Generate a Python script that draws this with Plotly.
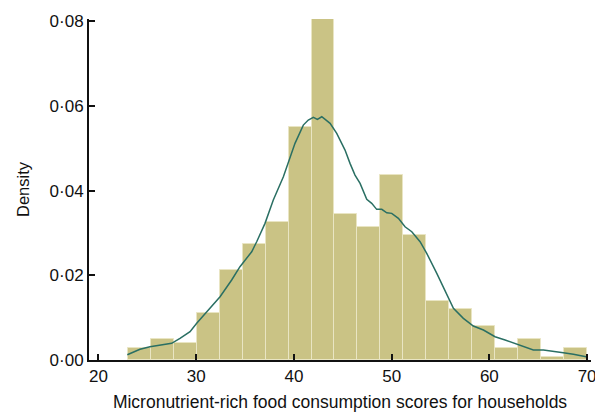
import numpy as np
import plotly.graph_objects as go

# Histogram of household micronutrient-rich food consumption scores (density scale)
bin_start = 23.0
bin_width = 2.35
bin_density = [0.0029, 0.0049, 0.0039, 0.0110, 0.0212, 0.0275, 0.0325, 0.0549,
               0.0805, 0.0345, 0.0315, 0.0437, 0.0294, 0.0140, 0.0120, 0.0080,
               0.0028, 0.0049, 0.0008, 0.0028]

# Kernel density estimate
kde_x = [22.95, 24.25, 25.27, 26.47, 27.49, 28.34, 29.37, 30.05, 31.41, 32.44,
         33.63, 34.48, 35.68, 36.19, 37.04, 37.89, 38.92, 39.60, 40.11, 40.96,
         41.47, 41.99, 42.40, 42.85, 43.18, 43.70, 44.38, 44.89, 45.23, 45.74,
         46.25, 46.77, 47.45, 47.96, 48.47, 48.99, 49.50, 50.01, 50.69, 51.37,
         52.06, 52.91, 53.59, 54.62, 55.64, 56.32, 57.34, 58.36, 59.39, 60.58,
         61.61, 62.63, 63.65, 64.50, 65.53, 66.55, 67.57, 68.60, 69.90]
kde_y = [0.00125, 0.00253, 0.00314, 0.00354, 0.00394, 0.00512, 0.00668, 0.00866,
         0.01220, 0.01494, 0.01888, 0.02202, 0.02556, 0.02792, 0.03226, 0.03776,
         0.04326, 0.04798, 0.05114, 0.05546, 0.05664, 0.05727, 0.05680, 0.05742,
         0.05680, 0.05586, 0.05350, 0.05114, 0.04956, 0.04642, 0.04366, 0.04170,
         0.03792, 0.03698, 0.03556, 0.03556, 0.03476, 0.03462, 0.03344, 0.03146,
         0.03028, 0.02792, 0.02518, 0.02046, 0.01530, 0.01220, 0.00984, 0.00802,
         0.00708, 0.00550, 0.00472, 0.00394, 0.00314, 0.00236, 0.00236, 0.00212,
         0.00172, 0.00135, 0.00078]

x_ticks = [20, 30, 40, 50, 60, 70]
y_ticks = [0.00, 0.02, 0.04, 0.06, 0.08]
y_tick_text = ["0·00", "0·02", "0·04", "0·06", "0·08"]

bin_centers = bin_start + bin_width * (np.arange(len(bin_density)) + 0.5)

font_family = "Liberation Sans, Arial, Helvetica, sans-serif"

fig = go.Figure()
fig.add_trace(go.Bar(
    x=bin_centers,
    y=bin_density,
    width=bin_width,
    marker=dict(color="#cac385", line=dict(color="#e9e5c3", width=1)),
    hoverinfo="skip",
))
fig.add_trace(go.Scatter(
    x=kde_x,
    y=kde_y,
    mode="lines",
    line=dict(color="#2a6f63", width=1.5),
    hoverinfo="skip",
))

fig.update_layout(
    width=595,
    height=412,
    margin=dict(l=89, r=4, t=19, b=52),
    paper_bgcolor="white",
    plot_bgcolor="white",
    showlegend=False,
    bargap=0,
    font=dict(family=font_family, size=17, color="#111111"),
    xaxis=dict(
        range=[19.03, 70.4],
        tickvals=x_ticks,
        ticks="inside",
        ticklen=6,
        tickwidth=1.5,
        tickcolor="#111111",
        showline=True,
        linecolor="#111111",
        linewidth=2,
        showgrid=False,
        zeroline=False,
        automargin=False,
        ticklabeloverflow="allow",
        tickfont=dict(size=17),
        title=dict(text="Micronutrient-rich food consumption scores for households",
                   font=dict(size=17.5), standoff=12),
    ),
    yaxis=dict(
        range=[0, 0.0805],
        tickvals=y_ticks,
        ticktext=y_tick_text,
        ticks="inside",
        ticklen=6,
        tickwidth=1.5,
        tickcolor="#111111",
        showline=True,
        linecolor="#111111",
        linewidth=2,
        showgrid=False,
        zeroline=False,
        automargin=False,
        tickfont=dict(size=17),
        title=dict(text="Density", font=dict(size=16.5), standoff=16),
    ),
)

fig.write_html("out.html")
